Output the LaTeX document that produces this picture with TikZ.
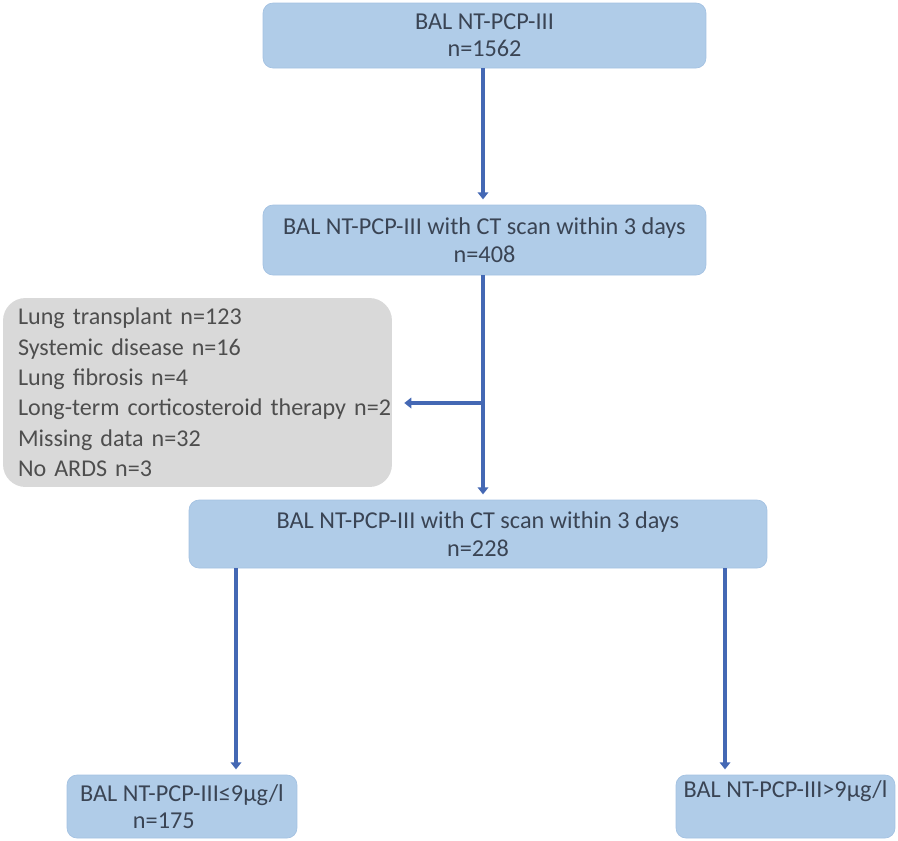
\documentclass[tikz,border=0pt]{standalone}
\usepackage{fontspec}
\setmainfont{Carlito}
\usepackage{tikz}
\usetikzlibrary{arrows.meta,calc,positioning}
\definecolor{boxblue}{RGB}{176,204,232}
\definecolor{boxedge}{RGB}{164,194,226}
\definecolor{boxgray}{RGB}{217,217,217}
\definecolor{textblue}{RGB}{58,68,84}
\definecolor{textgray}{RGB}{78,78,78}
\definecolor{flowblue}{RGB}{68,104,180}

\begin{document}
\begin{tikzpicture}[x=0.02cm,y=-0.02cm,
  stage/.style={draw=boxedge,fill=boxblue,rounded corners=0.2cm,align=center,
    text=textblue,font={\fontsize{13.8}{15.6}\selectfont},inner sep=0pt},
  excl/.style={fill=boxgray,rounded corners=0.45cm,align=left,text=textgray,
    font={\fontsize{13.7}{17.3}\selectfont},inner xsep=0.3cm,inner ysep=0pt,
    text width=7.18cm,minimum height=3.78cm},
  flow/.style={draw=flowblue,line width=1.9pt,shorten >=3pt,
    -{Triangle[width=6pt,length=4pt]}}]
\useasboundingbox (0,0) rectangle (898,840);

% boxes
\node[stage,minimum width=8.86cm,minimum height=1.30cm] (all) at (484.5,35.5)
  {BAL NT-PCP-III\\n=1562};
\node[stage,minimum width=8.86cm,minimum height=1.40cm] (ct) at (484.5,240)
  {BAL NT-PCP-III with CT scan within 3 days\\n=408};
\node[excl] (out) at (197.5,392.5)
  {Lung transplant n=123\\
   Systemic disease n=16\\
   Lung fibrosis n=4\\
   \mbox{Long-term corticosteroid therapy n=2}\\
   Missing data n=32\\
   No ARDS n=3};
\node[stage,minimum width=11.56cm,minimum height=1.36cm] (incl) at (478,534)
  {BAL NT-PCP-III with CT scan within 3 days\\n=228};
\node[stage,minimum width=4.60cm,minimum height=1.26cm] (low) at (182,806.5)
  {BAL NT-PCP-III≤9µg/l\\n=175\hspace*{1.5em}};
\node[stage,minimum width=4.38cm,minimum height=1.26cm] (high) at (785.5,806.5)
  {BAL NT-PCP-III>9µg/l\\\strut};

% connectors
\coordinate (split) at (483,403);
\coordinate (cut) at (399,403);
\coordinate (lowtop) at (236,568);
\coordinate (hightop) at (725,568);
\draw[flow] (all.south -| split) -- (ct.north -| split);
\draw[flow] (ct.south -| split) -- (incl.north -| split);
\draw[flow] (split) -- (cut);
\draw[flow] (lowtop) -- (lowtop |- low.north);
\draw[flow] (hightop) -- (hightop |- high.north);
\end{tikzpicture}
\end{document}
